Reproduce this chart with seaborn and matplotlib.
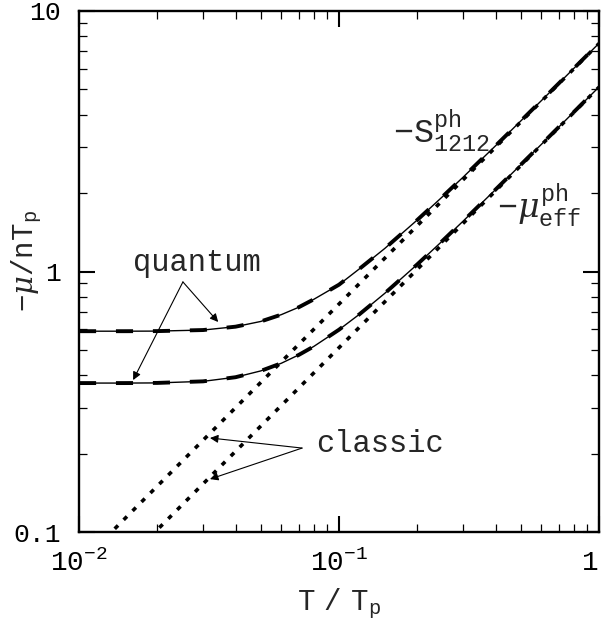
import numpy as np
import pandas as pd
import matplotlib
matplotlib.use("Agg")
import matplotlib.pyplot as plt
import seaborn as sns

# ---- data ----
T = [0.01, 0.015, 0.02, 0.03, 0.04, 0.05, 0.06, 0.07, 0.08, 0.10, 0.12, 0.15,
     0.20, 0.25, 0.30, 0.40, 0.50, 0.60, 0.70, 0.80, 1.00]
S_quantum = [0.590, 0.590, 0.5905, 0.596, 0.614, 0.643, 0.683, 0.729, 0.782, 0.890,
             1.025, 1.226, 1.577, 1.937, 2.301, 3.038, 3.782, 4.526, 5.272, 6.021, 7.516]
mu_quantum = [0.373, 0.373, 0.3735, 0.3787, 0.3928, 0.4153, 0.4444, 0.4783, 0.5157,
              0.5978, 0.6859, 0.8246, 1.065, 1.311, 1.560, 2.063, 2.568, 3.075,
              3.583, 4.093, 5.109]
T_classic = [0.01, 1.0]
S_classic = [0.075, 7.5]
mu_classic = [0.051, 5.1]

xticks = [0.01, 0.1, 1.0]
xticklabels = [r"$\mathrm{10^{-2}}$", r"$\mathrm{10^{-1}}$", "1"]
yticks = [0.1, 1.0, 10.0]
yticklabels = ["0.1", "1", "10"]

sns.set_theme(style="ticks")
plt.rcParams["font.family"] = ["Liberation Mono", "DejaVu Sans"]
plt.rcParams["mathtext.fontset"] = "custom"
plt.rcParams["mathtext.rm"] = "Liberation Mono"
plt.rcParams["mathtext.tt"] = "Liberation Mono"
plt.rcParams["mathtext.it"] = "DejaVu Serif:italic"
plt.rcParams["mathtext.bf"] = "Liberation Mono:bold"
plt.rcParams["mathtext.sf"] = "Liberation Mono"
plt.rcParams["mathtext.cal"] = "Liberation Mono"

fig = plt.figure(figsize=(6.03, 6.31), dpi=100)
ax = fig.add_axes([79 / 603, 1 - 532 / 631, 520 / 603, 521 / 631])

df_q = pd.DataFrame({"T": T, "S": S_quantum, "mu": mu_quantum})
df_c = pd.DataFrame({"T": T_classic, "S": S_classic, "mu": mu_classic})

for col in ["S", "mu"]:
    # thin solid line
    sns.lineplot(data=df_q, x="T", y=col, color="black", lw=1.0,
                 estimator=None, sort=False, ax=ax)
    # thick dashes on top
    sns.lineplot(data=df_q, x="T", y=col, color="black", lw=2.8,
                 linestyle=(0, (4.4, 5.1)), dash_capstyle="butt",
                 estimator=None, sort=False, ax=ax)
    # classic dotted
    sns.lineplot(data=df_c, x="T", y=col, color="black", lw=2.6,
                 linestyle=(0, (1.3, 2.2)), dash_capstyle="butt",
                 estimator=None, sort=False, ax=ax)

ax.set_xscale("log")
ax.set_yscale("log")
ax.set_xlim(0.01, 1.0)
ax.set_ylim(0.1, 10.0)

ax.set_xticks(xticks)
ax.set_xticklabels(xticklabels)
ax.set_yticks(yticks)
ax.set_yticklabels(yticklabels)
ax.get_xticklabels()[-1].set_horizontalalignment("right")

ax.tick_params(which="both", direction="in", top=True, right=True, colors="black")
ax.tick_params(which="major", length=11.5, width=1.5, labelsize=19, pad=13)
ax.tick_params(which="minor", length=5.8, width=0.9)
ax.tick_params(axis="x", which="major", labelsize=20, pad=13)

for s in ax.spines.values():
    s.set_linewidth(1.7)
    s.set_color("black")

ax.set_xlabel(r"$\mathrm{T\ /\ T_p}$", fontsize=21)
ax.set_ylabel(r"$-\mu\mathrm{/nT_p}$", fontsize=21)
ax.xaxis.set_label_coords(0.5, -0.105)
ax.yaxis.set_label_coords(-0.068, 0.52)

# curve labels
ax.text(0.161, 3.11, r"$\mathrm{-S^{ph}_{1212}}$", fontsize=24, ha="left", va="baseline")
ax.text(0.405, 1.60, r"$-\mu^{\mathrm{ph}}_{\mathrm{eff}}$", fontsize=24, ha="left", va="baseline")

# annotations
ax.text(0.0284, 1.08, "quantum", fontsize=22, ha="center", va="center")
ax.text(0.1439, 0.218, "classic", fontsize=22, ha="center", va="center")

arrow = dict(arrowstyle="-|>", lw=0.8, color="black", mutation_scale=12,
             shrinkA=0, shrinkB=0)
ax.annotate("", xy=(0.0343, 0.640), xytext=(0.0251, 0.912), arrowprops=arrow)
ax.annotate("", xy=(0.01615, 0.383), xytext=(0.0251, 0.912), arrowprops=arrow)
ax.annotate("", xy=(0.0319, 0.2296), xytext=(0.0721, 0.210), arrowprops=arrow)
ax.annotate("", xy=(0.0319, 0.1596), xytext=(0.0721, 0.210), arrowprops=arrow)

fig.savefig("out.png", dpi=100)
